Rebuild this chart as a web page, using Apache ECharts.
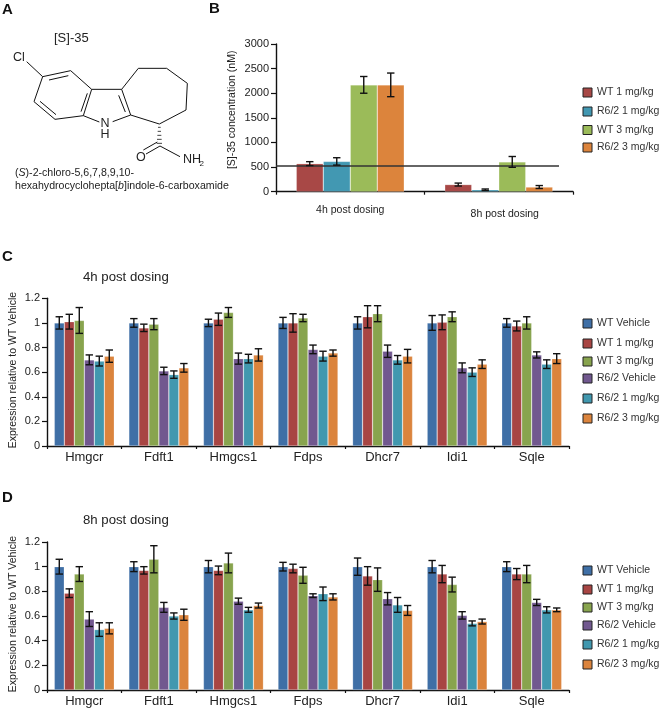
<!DOCTYPE html>
<html><head><meta charset="utf-8">
<style>html,body{margin:0;padding:0;background:#fff}#c{width:661px;height:711px}</style>
<script src="https://cdn.jsdelivr.net/npm/echarts@6/dist/echarts.min.js"></script>
</head><body><div id="c"></div>
<script>
const genes = ['Hmgcr','Fdft1','Hmgcs1','Fdps','Dhcr7','Idi1','Sqle'];
const geneSeries = ['WT Vehicle','WT 1 mg/kg','WT 3 mg/kg','R6/2 Vehicle','R6/2 1 mg/kg','R6/2 3 mg/kg'];
const geneColors = ['#3f6fa6','#a84543','#88a44e','#71588f','#4198af','#db843d'];

const h4_wtVehicle = [1,1,1,1,1,1,1];
const h4_wt1 = [1.01,.96,1.03,1.0,1.05,1.005,.975];
const h4_wt3 = [1.02,.99,1.085,1.04,1.075,1.05,1.0];
const h4_r6Vehicle = [.70,.61,.71,.785,.77,.635,.74];
const h4_r61 = [.69,.58,.71,.73,.70,.60,.665];
const h4_r63 = [.73,.635,.74,.755,.73,.665,.71];
const h4_wtVehicleErr = [.05,.035,.03,.045,.05,.06,.035];
const h4_wt1Err = [.06,.03,.05,.075,.09,.06,.04];
const h4_wt3Err = [.105,.045,.04,.03,.065,.04,.05];
const h4_r6VehicleErr = [.04,.03,.045,.035,.05,.04,.025];
const h4_r61Err = [.04,.03,.035,.04,.035,.035,.035];
const h4_r63Err = [.05,.035,.05,.025,.055,.035,.04];

const h8_wtVehicle = [1,1,1,1,1,1,1];
const h8_wt1 = [.785,.97,.97,.985,.925,.94,.94];
const h8_wt3 = [.94,1.06,1.03,.93,.895,.855,.94];
const h8_r6Vehicle = [.575,.67,.72,.765,.74,.605,.71];
const h8_r61 = [.49,.60,.65,.78,.69,.54,.65];
const h8_r63 = [.50,.61,.685,.755,.645,.555,.65];
const h8_wtVehicleErr = [.06,.04,.05,.035,.07,.05,.04];
const h8_wt1Err = [.035,.03,.035,.035,.075,.07,.045];
const h8_wt3Err = [.06,.11,.08,.065,.095,.06,.07];
const h8_r6VehicleErr = [.06,.04,.025,.015,.05,.03,.025];
const h8_r61Err = [.055,.025,.02,.055,.06,.02,.025];
const h8_r63Err = [.045,.045,.02,.025,.04,.02,.015];

const concCategories = ['4h post dosing','8h post dosing'];
const concSeries = ['WT 1 mg/kg','R6/2 1 mg/kg','WT 3 mg/kg','R6/2 3 mg/kg'];
const concColors = ['#a84846','#4298b2','#9bbb59','#dc843c'];
const concWt1 = [570,145];
const concR61 = [615,40];
const concWt3 = [2170,605];
const concR63 = [2170,95];
const concWt1Err = [40,30];
const concR61Err = [75,15];
const concWt3Err = [170,110];
const concR63Err = [240,30];
const concThreshold = 525;

const FONT = '"Liberation Sans", Arial, sans-serif';

function errRender(barW, idx, count){
  return function(params, api){
    const x = api.value(0), v = api.value(1), e = api.value(2);
    const off = (idx - (count-1)/2) * barW;
    const hi = api.coord([x, v+e]), lo = api.coord([x, v-e]);
    const cx = hi[0] + off, w = 3.7;
    const st = {stroke:'#111', lineWidth:1.4, fill:null};
    return {type:'group', children:[
      {type:'line', shape:{x1:cx,y1:hi[1],x2:cx,y2:lo[1]}, style:st},
      {type:'line', shape:{x1:cx-w,y1:hi[1],x2:cx+w,y2:hi[1]}, style:st},
      {type:'line', shape:{x1:cx-w,y1:lo[1],x2:cx+w,y2:lo[1]}, style:st}
    ]};
  };
}
const series = [];
function addPanel(gi, names, colors, values, errs, barW){
  names.forEach((n,i)=>{
    series.push({type:'bar', name:n, xAxisIndex:gi, yAxisIndex:gi, data:values[i], barWidth:barW, barGap:0,
      itemStyle:{color:colors[i], borderColor:'rgba(255,255,255,0.35)', borderWidth:0.6}, animation:false, z:2});
  });
  names.forEach((n,i)=>{
    series.push({type:'custom', xAxisIndex:gi, yAxisIndex:gi, z:5, animation:false, silent:true, clip:false,
      encode:{x:0,y:1}, renderItem:errRender(barW,i,names.length),
      data:values[i].map((v,k)=>[k,v,errs[i][k]])});
  });
}
addPanel(0, concSeries, concColors, [concWt1,concR61,concWt3,concR63], [concWt1Err,concR61Err,concWt3Err,concR63Err], 27);
addPanel(1, geneSeries, geneColors, [h4_wtVehicle,h4_wt1,h4_wt3,h4_r6Vehicle,h4_r61,h4_r63],
  [h4_wtVehicleErr,h4_wt1Err,h4_wt3Err,h4_r6VehicleErr,h4_r61Err,h4_r63Err], 10);
addPanel(2, geneSeries, geneColors, [h8_wtVehicle,h8_wt1,h8_wt3,h8_r6Vehicle,h8_r61,h8_r63],
  [h8_wtVehicleErr,h8_wt1Err,h8_wt3Err,h8_r6VehicleErr,h8_r61Err,h8_r63Err], 10);

series[0].markLine = {silent:true, symbol:'none', animation:false, label:{show:false},
  lineStyle:{color:'#333', width:1.6, type:'solid'},
  data:[[{x:276,yAxis:concThreshold},{x:559,yAxis:concThreshold}]]};

const axisLine = {show:true, lineStyle:{color:'#111', width:1.4}};
function catAxis(gi, data, size, margin){
  return {type:'category', gridIndex:gi, data, axisLine, axisTick:{show:true, alignWithLabel:false, length:3, inside:false, lineStyle:{color:'#111',width:1.2}},
    axisLabel:{color:'#222', fontFamily:FONT, fontSize:size, margin, interval:0}};
}
function valAxis(gi, max, interval, size, name, gap, namePad){
  return {type:'value', gridIndex:gi, min:0, max, interval, splitLine:{show:false}, axisLine,
    axisTick:{show:true, length:5, lineStyle:{color:'#111',width:1.2}},
    axisLabel:{color:'#222', fontFamily:FONT, fontSize:size, margin:7, formatter:(v)=>String(v)},
    name, nameLocation:'middle', nameGap:gap, nameRotate:90, nameMoveOverlap:false,
    nameTextStyle:{color:'#222', fontFamily:FONT, fontSize:10.5, padding:namePad}};
}
const concX = catAxis(0, [
  {value:concCategories[0]},
  {value:concCategories[1], textStyle:{padding:[4,0,0,12]}}], 10.5, 13);

function legends(names, colors, ys){
  return names.map((n,i)=>({orient:'horizontal', left:582.5, top:ys[i]-6, itemWidth:9, itemHeight:9, itemGap:4, padding:0,
    selectedMode:false, icon:'rect',
    textStyle:{color:'#333', fontFamily:FONT, fontSize:10.5},
    data:[{name:n, icon:'rect', itemStyle:{color:colors[i], borderColor:'#222', borderWidth:1}}]}));
}

/* skeletal drawing of the compound, panel A */
const S = 1/3;
const bonds = [
 [80,185,128,230],[128,230,212,212],[212,212,275,268],[275,268,250,347],[250,347,165,358],[165,358,102,305],[102,305,128,230],
 [147,240,205,227],[262,280,243,335],[168,344,120,304],
 [275,268,365,268],[365,268,392,345],[392,345,338,365],[250,347,298,366],[356,286,376,336],
 [365,268,415,205],[415,205,500,205],[500,205,562,250],[562,250,558,330],[558,330,478,372],[478,372,392,345],
 [480,438,438,462],[472,426,430,450],[480,438,540,470]
];
const hashes = [[474,482,382],[473,483,394],[472,484,406],[471,485,418],[470,486,430]];
const gfx = [];
bonds.forEach(b=>gfx.push({type:'line',shape:{x1:b[0]*S,y1:b[1]*S,x2:b[2]*S,y2:b[3]*S},style:{stroke:'#111',lineWidth:1}}));
hashes.forEach(h=>gfx.push({type:'line',shape:{x1:h[0]*S,y1:h[2]*S,x2:h[1]*S,y2:h[2]*S},style:{stroke:'#111',lineWidth:0.8}}));
function txt(t,x,y,size){
  return {type:'text',x,y,style:{text:t,fill:'#222',font:size+'px '+FONT,verticalAlign:'middle'}};
}
gfx.push(txt('Cl',13,58,12.5),txt('N',100.5,124,12.5),txt('H',100.5,134.5,12.5),txt('O',136,158,12.5),txt('NH',183,160,12.5),txt('2',199.5,164,8));
gfx.push(txt('[S]-35',54,38.5,13));
function bold(t,x,y){return {type:'text',x,y,style:{text:t,fill:'#111',font:'bold 15px '+FONT,verticalAlign:'middle'}};}
gfx.push(bold('A',2,9.5),bold('B',209,9),bold('C',2,257),bold('D',2,498));
gfx.push({type:'text',x:15,y:180,style:{
  text:'({i|S})-2-chloro-5,6,7,8,9,10-\nhexahydrocyclohepta[{i|b}]indole-6-carboxamide',
  fill:'#222', font:'10.6px '+FONT, lineHeight:13, verticalAlign:'middle',
  rich:{i:{font:'italic 10.6px '+FONT,fill:'#222'}}}});

const titleStyle = {fontFamily:FONT,fontSize:13.2,fontWeight:'normal',color:'#222'};
const option = {
  backgroundColor:'#fff', animation:false,
  title:[
    {text:'4h post dosing', left:83, top:271, padding:0, textStyle:titleStyle},
    {text:'8h post dosing', left:83, top:514, padding:0, textStyle:titleStyle}
  ],
  grid:[
    {left:276, top:44, width:297, height:147.7, outerBoundsMode:'none'},
    {left:47, top:298.3, width:522, height:147.7, outerBoundsMode:'none'},
    {left:47, top:542, width:522, height:148, outerBoundsMode:'none'}
  ],
  xAxis:[concX, catAxis(1,genes,13,5), catAxis(2,genes,13,5)],
  yAxis:[valAxis(0,3000,500,11,'[S]-35 concentration (nM)',38,[0,0,0,16]),
         valAxis(1,1.2,0.2,11,'Expression relative to WT Vehicle',28,[0,0,0,4]),
         valAxis(2,1.2,0.2,11,'Expression relative to WT Vehicle',28,[0,0,0,4])],
  legend:[].concat(
    legends(concSeries, concColors, [93,112,130.5,148]),
    legends(geneSeries, geneColors, [324,344,362,379,399,419]),
    legends(geneSeries, geneColors, [571,590,608,626,645,665])),
  series,
  graphic:{elements:gfx}
};
const chart = echarts.init(document.getElementById('c'), null, {renderer:'canvas'});
chart.setOption(option);
</script></body></html>
